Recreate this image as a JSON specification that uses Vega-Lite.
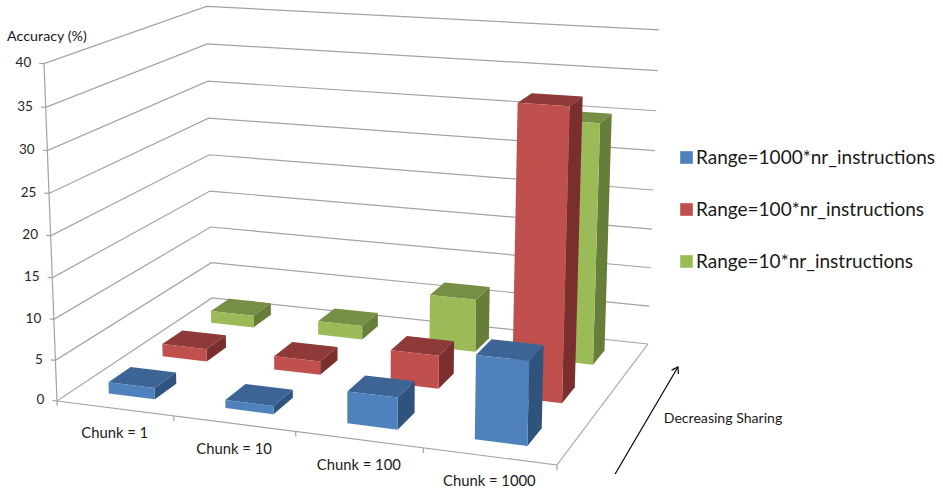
{
  "$schema": "https://vega.github.io/schema/vega-lite/v6.json",
  "width": 943,
  "height": 494,
  "padding": 0,
  "autosize": {"type": "fit", "contains": "padding"},
  "background": "white",
  "config": {"view": {"stroke": null}, "font": "Lato"},
  "datasets": {
    "bars": [
      {"chunk": "Chunk = 1", "c": 0, "series": "Range=10*nr_instructions", "s": 2, "accuracy": 1.6},
      {"chunk": "Chunk = 10", "c": 1, "series": "Range=10*nr_instructions", "s": 2, "accuracy": 1.8},
      {"chunk": "Chunk = 100", "c": 2, "series": "Range=10*nr_instructions", "s": 2, "accuracy": 6.8},
      {"chunk": "Chunk = 1000", "c": 3, "series": "Range=10*nr_instructions", "s": 2, "accuracy": 30.2},
      {"chunk": "Chunk = 1", "c": 0, "series": "Range=100*nr_instructions", "s": 1, "accuracy": 1.6},
      {"chunk": "Chunk = 10", "c": 1, "series": "Range=100*nr_instructions", "s": 1, "accuracy": 1.7},
      {"chunk": "Chunk = 100", "c": 2, "series": "Range=100*nr_instructions", "s": 1, "accuracy": 4.1},
      {"chunk": "Chunk = 1000", "c": 3, "series": "Range=100*nr_instructions", "s": 1, "accuracy": 35.1},
      {"chunk": "Chunk = 1", "c": 0, "series": "Range=1000*nr_instructions", "s": 0, "accuracy": 1.4},
      {"chunk": "Chunk = 10", "c": 1, "series": "Range=1000*nr_instructions", "s": 0, "accuracy": 1.0},
      {"chunk": "Chunk = 100", "c": 2, "series": "Range=1000*nr_instructions", "s": 0, "accuracy": 3.8},
      {"chunk": "Chunk = 1000", "c": 3, "series": "Range=1000*nr_instructions", "s": 0, "accuracy": 9.8}
    ],
    "ticks": [
      {"tick": 0}, {"tick": 5}, {"tick": 10}, {"tick": 15}, {"tick": 20},
      {"tick": 25}, {"tick": 30}, {"tick": 35}, {"tick": 40}
    ],
    "frame": [
      {"path": "front edge", "seq": 0, "u": 0, "v": 0, "h": 0},
      {"path": "front edge", "seq": 1, "u": 1, "v": 0, "h": 0},
      {"path": "right edge", "seq": 0, "u": 1, "v": 0, "h": 0},
      {"path": "right edge", "seq": 1, "u": 1, "v": 1, "h": 0},
      {"path": "value axis", "seq": 0, "u": 0, "v": 0, "h": 0},
      {"path": "value axis", "seq": 1, "u": 0, "v": 0, "h": 1},
      {"path": "tick 0", "seq": 0, "u": 0, "v": 0, "h": 0},
      {"path": "tick 0", "seq": 1, "u": 0, "v": 0, "h": -0.015},
      {"path": "tick 1", "seq": 0, "u": 0.25, "v": 0, "h": 0},
      {"path": "tick 1", "seq": 1, "u": 0.25, "v": 0, "h": -0.015},
      {"path": "tick 2", "seq": 0, "u": 0.5, "v": 0, "h": 0},
      {"path": "tick 2", "seq": 1, "u": 0.5, "v": 0, "h": -0.015},
      {"path": "tick 3", "seq": 0, "u": 0.75, "v": 0, "h": 0},
      {"path": "tick 3", "seq": 1, "u": 0.75, "v": 0, "h": -0.015},
      {"path": "tick 4", "seq": 0, "u": 1, "v": 0, "h": 0},
      {"path": "tick 4", "seq": 1, "u": 1, "v": 0, "h": -0.015}
    ],
    "sharingArrow": [
      {"seq": 0, "u": 1.107, "v": -0.01, "h": 0},
      {"seq": 1, "u": 1.09, "v": 0.827, "h": 0}
    ],
    "notes": [
      {"note": "Decreasing Sharing", "u": 1.2325, "v": 0.4554, "h": 0}
    ]
  },
  "encoding": {
    "x": {"field": "px", "type": "quantitative", "axis": null, "scale": {"domain": [0, 943], "nice": false, "zero": false}},
    "y": {"field": "py", "type": "quantitative", "axis": null, "scale": {"domain": [0, 494], "reverse": true, "nice": false, "zero": false}}
  },
  "layer": [
    {
      "data": {"name": "ticks"},
      "transform": [
        {"calculate": "[[-0.01,0,0],[0,0,1],[0,1,2],[1,1,3]]", "as": "q"},
        {"flatten": ["q"]},
        {"calculate": "datum.q[0]", "as": "u"},
        {"calculate": "datum.q[1]", "as": "v"},
        {"calculate": "datum.q[2]", "as": "seq"},
        {"calculate": "datum.tick/40", "as": "h"},
        {"calculate": "1-0.0861*datum.u+0.1648*datum.v-0.041*datum.h", "as": "w"},
        {"calculate": "(452*datum.u+189.9*datum.v+57-14.8*datum.h)/datum.w", "as": "px"},
        {"calculate": "(23.96*datum.u-53.9*datum.v+401-340*datum.h)/datum.w", "as": "py"}
      ],
      "mark": {"type": "line", "color": "#A3A3A3", "strokeWidth": 1.2},
      "encoding": {
        "detail": {"field": "tick", "type": "nominal"},
        "order": {"field": "seq", "type": "quantitative"}
      }
    },
    {
      "data": {"name": "frame"},
      "transform": [
        {"calculate": "1-0.0861*datum.u+0.1648*datum.v-0.041*datum.h", "as": "w"},
        {"calculate": "(452*datum.u+189.9*datum.v+57-14.8*datum.h)/datum.w", "as": "px"},
        {"calculate": "(23.96*datum.u-53.9*datum.v+401-340*datum.h)/datum.w", "as": "py"}
      ],
      "mark": {"type": "line", "color": "#A3A3A3", "strokeWidth": 1.2},
      "encoding": {
        "detail": {"field": "path", "type": "nominal"},
        "order": {"field": "seq", "type": "quantitative"}
      }
    },
    {
      "data": {"name": "bars"},
      "transform": [
        {"calculate": "[['top',0,-1,-1,1],['top',1,1,-1,1],['top',2,1,1,1],['top',3,-1,1,1],['side',4,1,-1,0],['side',5,1,1,0],['side',6,1,1,1],['side',7,1,-1,1],['front',8,-1,-1,0],['front',9,1,-1,0],['front',10,1,-1,1],['front',11,-1,-1,1]]", "as": "q"},
        {"flatten": ["q"]},
        {"calculate": "datum.q[0]", "as": "face"},
        {"calculate": "datum.q[1]", "as": "corner"},
        {"calculate": "(datum.c+0.5)/4+0.05*datum.q[2]", "as": "u"},
        {"calculate": "(datum.s+0.5)/3+0.0667*datum.q[3]", "as": "v"},
        {"calculate": "datum.q[4]*datum.accuracy/40", "as": "h"},
        {"calculate": "datum.face==='front'?datum.series:datum.series+' '+datum.face", "as": "shade"},
        {"calculate": "datum.series+datum.chunk+datum.face", "as": "polygon"},
        {"calculate": "1-0.0861*datum.u+0.1648*datum.v-0.041*datum.h", "as": "w"},
        {"calculate": "(452*datum.u+189.9*datum.v+57-14.8*datum.h)/datum.w", "as": "px"},
        {"calculate": "(23.96*datum.u-53.9*datum.v+401-340*datum.h)/datum.w", "as": "py"}
      ],
      "mark": {"type": "line", "filled": true, "strokeWidth": 0},
      "encoding": {
        "detail": {"field": "polygon", "type": "nominal"},
        "order": {"field": "corner", "type": "quantitative"},
        "color": {
          "field": "shade",
          "type": "nominal",
          "scale": {
            "domain": [
              "Range=1000*nr_instructions", "Range=100*nr_instructions", "Range=10*nr_instructions",
              "Range=1000*nr_instructions top", "Range=100*nr_instructions top", "Range=10*nr_instructions top",
              "Range=1000*nr_instructions side", "Range=100*nr_instructions side", "Range=10*nr_instructions side"
            ],
            "range": [
              "#4F81BD", "#C0504D", "#9BBB59",
              "#3C6494", "#8E3A38", "#778F44",
              "#30537E", "#7A2F2E", "#677D3A"
            ]
          },
          "legend": {
            "values": ["Range=1000*nr_instructions", "Range=100*nr_instructions", "Range=10*nr_instructions"],
            "orient": "none",
            "legendX": 677,
            "legendY": 148,
            "title": null,
            "symbolType": "square",
            "symbolSize": 160,
            "symbolStrokeWidth": 0,
            "labelFontSize": 19,
            "labelFont": "Lato",
            "labelColor": "#1a1a1a",
            "labelLimit": 300,
            "rowPadding": 32,
            "labelOffset": 0
          }
        }
      }
    },
    {
      "data": {"name": "ticks"},
      "transform": [
        {"calculate": "-0.01", "as": "u"},
        {"calculate": "0", "as": "v"},
        {"calculate": "datum.tick/40", "as": "h"},
        {"calculate": "1-0.0861*datum.u+0.1648*datum.v-0.041*datum.h", "as": "w"},
        {"calculate": "(452*datum.u+189.9*datum.v+57-14.8*datum.h)/datum.w", "as": "px"},
        {"calculate": "(23.96*datum.u-53.9*datum.v+401-340*datum.h)/datum.w", "as": "py"}
      ],
      "mark": {"type": "text", "align": "right", "baseline": "middle", "dx": -8, "fontSize": 13.5, "color": "#262626"},
      "encoding": {"text": {"field": "tick", "type": "quantitative"}}
    },
    {
      "data": {"values": [{"label": "Accuracy (%)", "u": 0, "v": 0, "h": 1}]},
      "transform": [
        {"calculate": "1-0.0861*datum.u+0.1648*datum.v-0.041*datum.h", "as": "w"},
        {"calculate": "(452*datum.u+189.9*datum.v+57-14.8*datum.h)/datum.w", "as": "px"},
        {"calculate": "(23.96*datum.u-53.9*datum.v+401-340*datum.h)/datum.w", "as": "py"}
      ],
      "mark": {"type": "text", "align": "center", "baseline": "middle", "dx": 3, "dy": -27, "fontSize": 14.3, "color": "#1a1a1a"},
      "encoding": {"text": {"field": "label", "type": "nominal"}}
    },
    {
      "data": {"name": "bars"},
      "transform": [
        {"filter": "datum.s===0"},
        {"calculate": "(datum.c+0.5)/4", "as": "u"},
        {"calculate": "0", "as": "v"},
        {"calculate": "0", "as": "h"},
        {"calculate": "1-0.0861*datum.u+0.1648*datum.v-0.041*datum.h", "as": "w"},
        {"calculate": "(452*datum.u+189.9*datum.v+57-14.8*datum.h)/datum.w", "as": "px"},
        {"calculate": "(23.96*datum.u-53.9*datum.v+401-340*datum.h)/datum.w", "as": "py"}
      ],
      "mark": {"type": "text", "align": "center", "baseline": "middle", "dy": 26, "fontSize": 14.8, "color": "#1a1a1a"},
      "encoding": {"text": {"field": "chunk", "type": "nominal"}}
    },
    {
      "data": {"name": "sharingArrow"},
      "transform": [
        {"calculate": "1-0.0861*datum.u+0.1648*datum.v-0.041*datum.h", "as": "w"},
        {"calculate": "(452*datum.u+189.9*datum.v+57-14.8*datum.h)/datum.w", "as": "px"},
        {"calculate": "(23.96*datum.u-53.9*datum.v+401-340*datum.h)/datum.w", "as": "py"}
      ],
      "mark": {"type": "line", "color": "#000000", "strokeWidth": 1.2},
      "encoding": {"order": {"field": "seq", "type": "quantitative"}}
    },
    {
      "data": {"name": "sharingArrow"},
      "transform": [
        {"filter": "datum.seq===1"},
        {"calculate": "1-0.0861*datum.u+0.1648*datum.v-0.041*datum.h", "as": "w"},
        {"calculate": "(452*datum.u+189.9*datum.v+57-14.8*datum.h)/datum.w", "as": "px"},
        {"calculate": "(23.96*datum.u-53.9*datum.v+401-340*datum.h)/datum.w", "as": "py"}
      ],
      "mark": {"type": "point", "shape": "M -0.6 0.9 L 0 0 L 0.6 0.9", "filled": false, "size": 170, "angle": 30, "color": "#000000", "strokeWidth": 1.2, "opacity": 1},
      "encoding": {}
    },
    {
      "data": {"name": "notes"},
      "transform": [
        {"calculate": "1-0.0861*datum.u+0.1648*datum.v-0.041*datum.h", "as": "w"},
        {"calculate": "(452*datum.u+189.9*datum.v+57-14.8*datum.h)/datum.w", "as": "px"},
        {"calculate": "(23.96*datum.u-53.9*datum.v+401-340*datum.h)/datum.w", "as": "py"}
      ],
      "mark": {"type": "text", "align": "center", "baseline": "middle", "fontSize": 14.1, "color": "#1a1a1a"},
      "encoding": {"text": {"field": "note", "type": "nominal"}}
    }
  ]
}
